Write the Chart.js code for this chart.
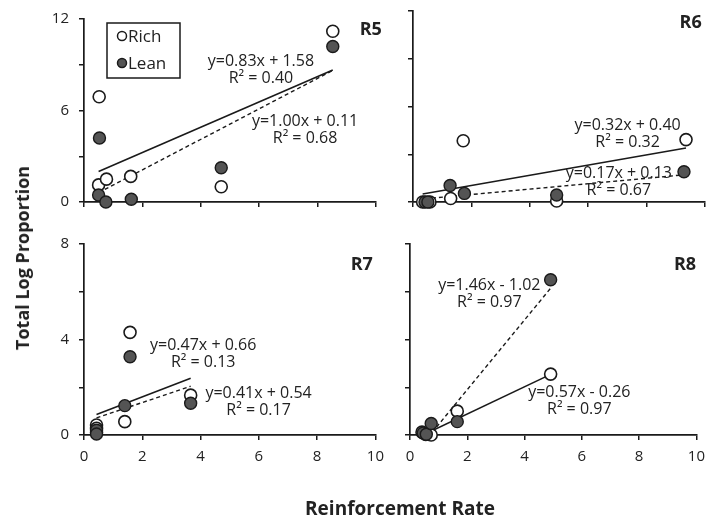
<!DOCTYPE html>
<html>
<head>
<meta charset="utf-8">
<script src="https://cdn.jsdelivr.net/npm/chart.js@4.4.1/dist/chart.umd.min.js"></script>
<style>
  body { margin: 0; background: #fff; width: 713px; height: 523px; position: relative; overflow: hidden; font-family: 'Open Sans', sans-serif; }
  canvas { position: absolute; }
  #ytitle { position: absolute; left: 22px; top: 258px; transform: translate(-50%, -50%) rotate(-90deg); font-weight: bold; font-size: 18px; white-space: nowrap; color: #222; }
  #xtitle { position: absolute; left: 400px; top: 508px; transform: translate(-50%, -50%); font-weight: bold; font-size: 19px; white-space: nowrap; color: #222; }
</style>
</head>
<body>
<canvas id="r5" style="left:0;top:0"></canvas>
<canvas id="r6" style="left:392px;top:0"></canvas>
<canvas id="r7" style="left:0;top:225px"></canvas>
<canvas id="r8" style="left:392px;top:225px"></canvas>
<div id="ytitle">Total Log Proportion</div>
<div id="xtitle">Reinforcement Rate</div>
<script>
// series 0 = Rich (open), 1 = Lean (filled)
const seriesNames = ['Rich', 'Lean'];
const xTickLabels = [0, 2, 4, 6, 8, 10];
const topYTickLabels = [0, 6, 12];
const bottomYTickLabels = [0, 4, 8];

const r5RichX = [0.5, 0.77, 0.52, 1.6, 4.7, 8.52];
const r5RichY = [1.12, 1.5, 6.9, 1.68, 1.0, 11.2];
const r5LeanX = [0.5, 0.75, 0.53, 1.62, 4.7, 8.52];
const r5LeanY = [0.46, 0, 4.2, 0.18, 2.25, 10.2];
const r5Slope = [0.83, 1.00];
const r5Intercept = [1.58, 0.11];
const r5R2 = [0.40, 0.68];

const r6RichX = [0.33, 0.58, 1.29, 1.72, 4.92, 9.35];
const r6RichY = [0, 0, 0.22, 3.85, 0.06, 3.92];
const r6LeanX = [0.41, 0.51, 1.27, 1.76, 4.92, 9.28];
const r6LeanY = [0, 0, 1.04, 0.54, 0.44, 1.9];
const r6Slope = [0.32, 0.17];
const r6Intercept = [0.40, 0.13];
const r6R2 = [0.32, 0.67];

const r7RichX = [0.43, 0.43, 0.43, 1.4, 1.58, 3.66];
const r7RichY = [0.42, 0.28, 0.12, 0.56, 4.3, 1.67];
const r7LeanX = [0.43, 0.43, 1.4, 1.58, 3.66];
const r7LeanY = [0.2, 0.04, 1.23, 3.28, 1.33];
const r7Slope = [0.47, 0.41];
const r7Intercept = [0.66, 0.54];
const r7R2 = [0.13, 0.17];

const r8RichX = [0.42, 0.55, 0.74, 1.65, 4.91];
const r8RichY = [0.12, 0.02, 0, 1.0, 2.55];
const r8LeanX = [0.46, 0.57, 0.74, 1.65, 4.91];
const r8LeanY = [0.08, 0.03, 0.48, 0.56, 6.5];
const r8Slope = [0.57, 1.46];
const r8Intercept = [-0.26, -1.02];
const r8R2 = [0.97, 0.97];

const FONT = "'Open Sans', sans-serif";
const INK = '#1a1a1a';

function pts(xs, ys) {
    return xs.map((x, i) => ({x, y: ys[i]}));
}

function trend(xs, slope, intercept) {
    const lo = Math.min(...xs), hi = Math.max(...xs);
    return [{x: lo, y: slope * lo + intercept}, {x: hi, y: slope * hi + intercept}];
}

function eqLines(slope, intercept, r2) {
    const sign = intercept < 0 ? '-' : '+';
    return ['y=' + slope.toFixed(2) + 'x ' + sign + ' ' + Math.abs(intercept).toFixed(2),
            'R\u00B2 = ' + r2.toFixed(2)];
}

const panelTextPlugin = {
    id: 'panelText',
    afterDatasetsDraw(chart, args, opts) {
        const {ctx, scales} = chart;
        const xs = scales.x, ys = scales.y;
        ctx.save();
        ctx.fillStyle = '#222';
        ctx.textAlign = 'center';
        ctx.textBaseline = 'middle';
        ctx.font = '16px ' + FONT;
        for (const eq of opts.equations || []) {
            const px = xs.getPixelForValue(eq.x);
            const py = ys.getPixelForValue(eq.y);
            eq.lines.forEach((line, i) => ctx.fillText(line, px, py + i * 17));
        }
        if (opts.tag) {
            ctx.font = 'bold 18px ' + FONT;
            ctx.textAlign = 'right';
            ctx.fillText(opts.tag.text, xs.getPixelForValue(opts.tag.x), ys.getPixelForValue(opts.tag.y));
        }
        const L = opts.legend;
        if (L) {
            ctx.lineWidth = 1.5;
            ctx.strokeStyle = INK;
            ctx.strokeRect(L.left, L.top, L.width, L.height);
            L.items.forEach((item, i) => {
                const cy = L.top + 13 + i * 27;
                ctx.beginPath();
                ctx.arc(L.left + 15, cy, 4.5, 0, Math.PI * 2);
                ctx.fillStyle = item.fill;
                ctx.fill();
                ctx.lineWidth = 1.5;
                ctx.stroke();
                ctx.fillStyle = '#222';
                ctx.textAlign = 'left';
                ctx.font = '17px ' + FONT;
                ctx.fillText(item.label, L.left + 21, cy + 1);
            });
        }
        ctx.restore();
    }
};
Chart.register(panelTextPlugin);

const RICH_FILL = '#ffffff';
const LEAN_FILL = '#545454';

function makePanel(id, p) {
    const canvas = document.getElementById(id);
    canvas.width = p.w;
    canvas.height = p.h;
    canvas.style.width = p.w + 'px';
    canvas.style.height = p.h + 'px';

    const equations = p.eqPos.map(e => ({
        x: e.x, y: e.y,
        lines: eqLines(p.slope[e.fit], p.intercept[e.fit], p.r2[e.fit])
    }));

    const axisGrid = {display: true, drawOnChartArea: false, drawTicks: true, tickLength: 5, color: INK, lineWidth: 1.5};
    const axisBorder = {display: true, color: INK, width: 1.7};

    return new Chart(canvas.getContext('2d'), {
        type: 'scatter',
        data: {
            datasets: [
                {
                    label: seriesNames[1], data: pts(p.leanX, p.leanY), order: 1, clip: false,
                    pointRadius: 6, pointHoverRadius: 6, pointBackgroundColor: LEAN_FILL,
                    pointBorderColor: INK, pointBorderWidth: 1.4
                },
                {
                    label: seriesNames[0], data: pts(p.richX, p.richY), order: 2, clip: false,
                    pointRadius: 6, pointHoverRadius: 6, pointBackgroundColor: RICH_FILL,
                    pointBorderColor: INK, pointBorderWidth: 1.6
                },
                {
                    label: 'Rich fit', data: trend(p.richX, p.slope[0], p.intercept[0]), order: 3,
                    showLine: true, pointRadius: 0, borderColor: INK, borderWidth: 1.6
                },
                {
                    label: 'Lean fit', data: trend(p.leanX, p.slope[1], p.intercept[1]), order: 3,
                    showLine: true, pointRadius: 0, borderColor: INK, borderWidth: 1.4, borderDash: [4, 3]
                }
            ]
        },
        options: {
            responsive: false,
            animation: false,
            events: [],
            layout: {padding: {top: p.padTop, right: p.padRight, left: 0, bottom: 0}},
            scales: {
                x: {
                    type: 'linear', min: 0, max: 10,
                    afterFit: s => { s.height = p.xHeight; },
                    ticks: {
                        stepSize: 2, display: p.showX, maxRotation: 0, padding: 8, color: '#222',
                        font: {family: FONT, size: 15},
                        callback: v => xTickLabels.includes(v) ? String(v) : ''
                    },
                    grid: axisGrid, border: axisBorder
                },
                y: {
                    min: 0, max: p.yMax,
                    afterFit: s => { s.width = p.yWidth; },
                    ticks: {
                        stepSize: p.yMax / 4, display: p.showY, padding: 10, color: '#222',
                        font: {family: FONT, size: 15},
                        callback: v => p.yLabels.includes(v) ? String(v) : ''
                    },
                    grid: axisGrid, border: axisBorder
                }
            },
            plugins: {
                legend: {display: false},
                tooltip: {enabled: false},
                panelText: {equations, tag: p.tag, legend: p.legend || null}
            }
        }
    });
}

makePanel('r5', {
    w: 392, h: 225, padTop: 11, padRight: 16, yWidth: 84, xHeight: 23,
    yMax: 12, yLabels: topYTickLabels, showX: false, showY: true,
    richX: r5RichX, richY: r5RichY, leanX: r5LeanX, leanY: r5LeanY,
    slope: r5Slope, intercept: r5Intercept, r2: r5R2,
    eqPos: [{fit: 0, x: 6.06, y: 9.23}, {fit: 1, x: 7.57, y: 5.26}],
    tag: {text: 'R5', x: 10.2, y: 11.26},
    legend: {
        left: 107, top: 23, width: 73, height: 55,
        items: [{label: seriesNames[0], fill: RICH_FILL}, {label: seriesNames[1], fill: LEAN_FILL}]
    }
});

makePanel('r6', {
    w: 321, h: 225, padTop: 11, padRight: 8, yWidth: 21, xHeight: 23,
    yMax: 12, yLabels: topYTickLabels, showX: false, showY: false,
    richX: r6RichX, richY: r6RichY, leanX: r6LeanX, leanY: r6LeanY,
    slope: r6Slope, intercept: r6Intercept, r2: r6R2,
    eqPos: [{fit: 0, x: 7.35, y: 4.84}, {fit: 1, x: 7.05, y: 1.8}],
    tag: {text: 'R6', x: 9.89, y: 11.26}
});

makePanel('r7', {
    w: 392, h: 298, padTop: 19, padRight: 16, yWidth: 84, xHeight: 88,
    yMax: 8, yLabels: bottomYTickLabels, showX: true, showY: true,
    richX: r7RichX, richY: r7RichY, leanX: r7LeanX, leanY: r7LeanY,
    slope: r7Slope, intercept: r7Intercept, r2: r7R2,
    eqPos: [{fit: 0, x: 4.09, y: 3.77}, {fit: 1, x: 5.99, y: 1.74}],
    tag: {text: 'R7', x: 9.91, y: 7.14}
});

makePanel('r8', {
    w: 321, h: 298, padTop: 19, padRight: 11, yWidth: 18, xHeight: 88,
    yMax: 8, yLabels: bottomYTickLabels, showX: true, showY: false,
    richX: r8RichX, richY: r8RichY, leanX: r8LeanX, leanY: r8LeanY,
    slope: r8Slope, intercept: r8Intercept, r2: r8R2,
    eqPos: [{fit: 1, x: 2.77, y: 6.28}, {fit: 0, x: 5.91, y: 1.77}],
    tag: {text: 'R8', x: 9.99, y: 7.11}
});
</script>
</body>
</html>
